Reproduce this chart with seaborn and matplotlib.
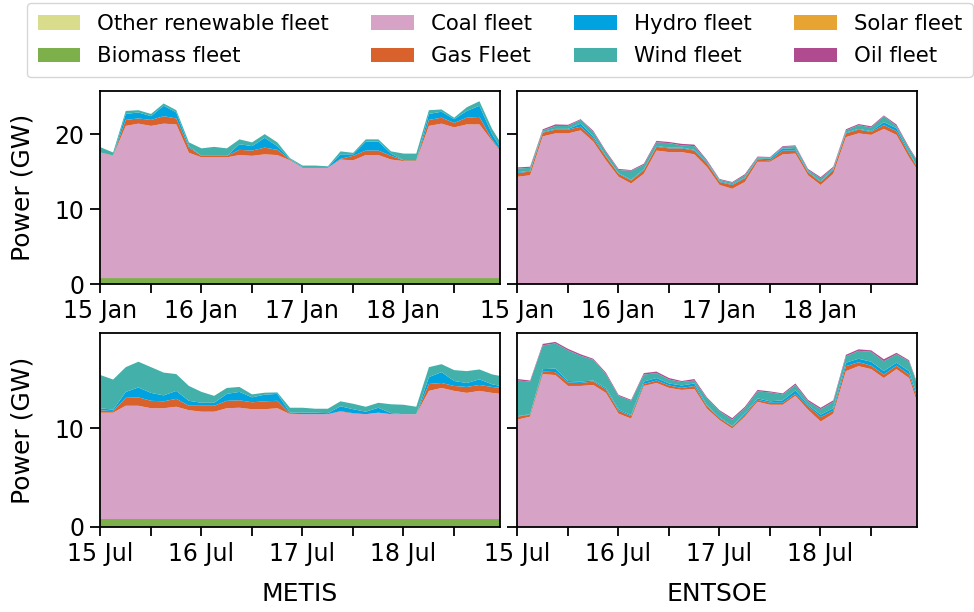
import numpy as np
import pandas as pd
import matplotlib
matplotlib.use("Agg")
import matplotlib.pyplot as plt
import matplotlib.dates as mdates
import seaborn as sns

# ---------------- data (GW), 3-hourly samples, hours since 00:00 of the 15th ----------------
hours = [0, 3, 6, 9, 12, 15, 18, 21, 24, 27, 30, 33, 36, 39, 42, 45, 48, 51, 54, 57, 60,
         63, 66, 69, 72, 75, 78, 81, 84, 87, 90, 93, 95]

series_names = ["Other renewable fleet", "Biomass fleet", "Coal fleet", "Gas Fleet",
                "Hydro fleet", "Wind fleet", "Solar fleet", "Oil fleet"]
series_colors = ["#d9dd8b", "#7db04b", "#d6a2c6", "#d9622c", "#00a2e0", "#43b0aa",
                 "#e8a432", "#b04b90"]

# METIS, January
metis_jan_biomass = [0.85] * 33
metis_jan_coal = [16.75, 16.35, 20.35, 20.65, 20.35, 20.65, 20.55, 16.75, 16.15, 16.15, 16.15,
                  16.45, 16.35, 16.55, 16.45, 15.75, 14.75, 14.75, 14.75, 15.85, 15.75, 16.45,
                  16.45, 15.85, 15.65, 15.65, 20.35, 20.65, 20.15, 20.55, 20.55, 18.35, 16.95]
metis_jan_gas = [0.05, 0.05, 0.8, 0.7, 0.8, 1.0, 0.8, 0.7, 0.2, 0.2, 0.2, 0.7, 0.7, 0.9, 0.7,
                 0.1, 0.0, 0.0, 0.0, 0.1, 0.6, 0.6, 0.6, 0.5, 0.1, 0.1, 0.8, 0.8, 0.6, 0.9, 1.0,
                 0.2, 0.1]
metis_jan_hydro = [0.0, 0.0, 0.8, 0.8, 0.5, 1.4, 0.8, 0.2, 0.0, 0.0, 0.0, 0.75, 0.6, 1.3, 0.5,
                   0.1, 0.1, 0.1, 0.1, 0.6, 0.2, 1.2, 1.2, 0.3, 0.0, 0.0, 0.8, 0.8, 0.5, 0.9,
                   1.5, 0.7, 0.4]
metis_jan_wind = [0.7, 0.4, 0.4, 0.3, 0.3, 0.3, 0.3, 0.5, 1.0, 1.2, 1.0, 0.65, 0.5, 0.5, 0.5,
                  0.1, 0.2, 0.2, 0.1, 0.4, 0.2, 0.3, 0.3, 0.3, 0.9, 0.9, 0.5, 0.3, 0.2, 0.5,
                  0.6, 0.7, 0.7]
metis_jan_oil = [0.0] * 33

# ENTSOE, January
entsoe_jan_biomass = [0.05] * 33
entsoe_jan_coal = [14.35, 14.55, 19.75, 20.15, 20.15, 20.55, 19.05, 16.55, 14.35, 13.45, 14.75,
                   17.85, 17.65, 17.65, 17.35, 15.65, 13.25, 12.75, 13.65, 16.35, 16.35, 17.35,
                   17.45, 14.55, 13.25, 14.75, 19.65, 20.15, 19.95, 20.75, 19.95, 16.95, 15.25]
entsoe_jan_gas = [0.5, 0.5, 0.5, 0.5, 0.5, 0.5, 0.4, 0.5, 0.4, 0.4, 0.5, 0.5, 0.5, 0.5, 0.5,
                  0.5, 0.4, 0.5, 0.5, 0.3, 0.2, 0.5, 0.4, 0.4, 0.4, 0.5, 0.5, 0.5, 0.4, 0.5,
                  0.5, 0.5, 0.3]
entsoe_jan_hydro = [0.1, 0.1, 0.1, 0.1, 0.1, 0.4, 0.3, 0.1, 0.1, 0.1, 0.1, 0.1, 0.1, 0.1, 0.1,
                    0.1, 0.1, 0.1, 0.1, 0.1, 0.2, 0.3, 0.2, 0.1, 0.1, 0.1, 0.1, 0.1, 0.1, 0.4,
                    0.4, 0.2, 0.1]
entsoe_jan_wind = [0.5, 0.4, 0.2, 0.4, 0.4, 0.5, 0.6, 0.5, 0.4, 1.2, 0.6, 0.5, 0.6, 0.3, 0.5,
                   0.2, 0.2, 0.2, 0.3, 0.2, 0.15, 0.2, 0.4, 0.2, 0.4, 0.2, 0.3, 0.5, 0.5, 0.8,
                   0.3, 0.5, 0.7]
entsoe_jan_oil = [0.15, 0.15, 0.15, 0.2, 0.15, 0.1, 0.15, 0.15, 0.15, 0.1, 0.15, 0.2, 0.15, 0.2,
                  0.2, 0.15, 0.1, 0.1, 0.15, 0.1, 0.1, 0.1, 0.1, 0.15, 0.15, 0.15, 0.15, 0.15,
                  0.15, 0.1, 0.2, 0.15, 0.15]

# METIS, July
metis_jul_biomass = [0.85] * 33
metis_jul_coal = [10.75, 10.75, 11.45, 11.45, 11.2, 11.2, 11.35, 11.0, 10.85, 10.85, 11.2, 11.25,
                  11.1, 11.1, 11.2, 10.6, 10.6, 10.6, 10.6, 10.85, 10.65, 10.6, 10.75, 10.6,
                  10.6, 10.6, 12.95, 13.25, 12.95, 12.75, 12.95, 12.75, 12.65]
metis_jul_gas = [0.25, 0.15, 0.8, 0.85, 0.75, 0.7, 0.8, 0.45, 0.6, 0.6, 0.75, 0.75, 0.7, 0.8,
                 0.75, 0.05, 0.0, 0.0, 0.0, 0.05, 0.05, 0.0, 0.0, 0.0, 0.0, 0.0, 0.7, 0.5, 0.5,
                 0.6, 0.6, 0.6, 0.6]
metis_jul_hydro = [0.2, 0.15, 0.6, 1.0, 0.8, 0.6, 0.8, 0.5, 0.3, 0.3, 0.7, 0.85, 0.5, 0.67, 0.7,
                   0.1, 0.15, 0.15, 0.1, 0.5, 0.4, 0.25, 0.5, 0.1, 0.0, 0.0, 0.7, 1.1, 0.5, 0.4,
                   0.57, 0.27, 0.2]
metis_jul_wind = [3.35, 3.05, 2.5, 2.6, 2.6, 2.3, 1.7, 1.5, 1.1, 0.7, 0.6, 0.5, 0.3, 0.2, 0.15,
                  0.5, 0.5, 0.4, 0.45, 0.5, 0.55, 0.5, 0.5, 0.9, 0.95, 0.75, 1.0, 0.8, 1.1, 1.2,
                  1.0, 1.0, 1.0]
metis_jul_oil = [0.0] * 33

# ENTSOE, July
entsoe_jul_biomass = [0.05] * 33
entsoe_jul_coal = [10.85, 11.15, 15.45, 15.35, 14.25, 14.25, 14.35, 13.55, 11.45, 10.95, 14.25,
                   14.55, 14.05, 13.85, 13.95, 11.95, 10.8, 9.95, 11.15, 12.65, 12.35, 12.35,
                   13.25, 11.85, 10.65, 11.45, 15.75, 16.25, 15.95, 15.05, 15.95, 15.05, 12.5]
entsoe_jul_gas = [0.3, 0.2, 0.25, 0.3, 0.35, 0.3, 0.35, 0.35, 0.3, 0.25, 0.2, 0.25, 0.25, 0.2,
                  0.3, 0.25, 0.2, 0.2, 0.2, 0.2, 0.2, 0.2, 0.2, 0.35, 0.45, 0.3, 0.5, 0.4, 0.35,
                  0.35, 0.35, 0.35, 0.4]
entsoe_jul_hydro = [0.05, 0.05, 0.25, 0.35, 0.15, 0.15, 0.1, 0.15, 0.15, 0.1, 0.25, 0.25, 0.2,
                    0.25, 0.25, 0.1, 0.1, 0.05, 0.15, 0.15, 0.15, 0.25, 0.35, 0.15, 0.25, 0.25,
                    0.35, 0.35, 0.4, 0.35, 0.3, 0.35, 0.3]
entsoe_jul_wind = [3.6, 3.3, 2.4, 2.55, 3.1, 2.6, 2.1, 1.4, 1.35, 1.45, 0.7, 0.5, 0.4, 0.35, 0.3,
                   0.7, 0.6, 0.65, 0.5, 0.7, 0.9, 0.6, 0.55, 0.35, 0.55, 0.65, 0.65, 0.8, 1.0,
                   1.0, 0.85, 1.0, 1.1]
entsoe_jul_oil = [0.15, 0.1, 0.15, 0.15, 0.15, 0.15, 0.1, 0.15, 0.1, 0.1, 0.15, 0.15, 0.15, 0.1,
                  0.15, 0.1, 0.1, 0.15, 0.15, 0.15, 0.1, 0.1, 0.15, 0.15, 0.15, 0.15, 0.15, 0.15,
                  0.15, 0.2, 0.15, 0.1, 0.15]

zeros = [0.0] * 33

panels = [
    ("2018-01-15", [zeros, metis_jan_biomass, metis_jan_coal, metis_jan_gas, metis_jan_hydro,
                    metis_jan_wind, zeros, metis_jan_oil]),
    ("2018-01-15", [zeros, entsoe_jan_biomass, entsoe_jan_coal, entsoe_jan_gas, entsoe_jan_hydro,
                    entsoe_jan_wind, zeros, entsoe_jan_oil]),
    ("2018-07-15", [zeros, metis_jul_biomass, metis_jul_coal, metis_jul_gas, metis_jul_hydro,
                    metis_jul_wind, zeros, metis_jul_oil]),
    ("2018-07-15", [zeros, entsoe_jul_biomass, entsoe_jul_coal, entsoe_jul_gas, entsoe_jul_hydro,
                    entsoe_jul_wind, zeros, entsoe_jul_oil]),
]

# ---------------- figure ----------------
sns.set_style("ticks", {"axes.edgecolor": "black", "xtick.color": "black",
                        "ytick.color": "black", "xtick.direction": "out",
                        "ytick.direction": "out", "text.color": "black",
                        "axes.labelcolor": "black"})
plt.rcParams["font.family"] = ["DejaVu Sans"]
plt.rcParams["text.color"] = "black"
plt.rcParams["axes.labelcolor"] = "black"
TICK_FS = 17
LABEL_FS = 18
LEG_FS = 15.3

W, H = 974, 612
fig = plt.figure(figsize=(W / 100, H / 100), dpi=100)

def frac(l, t, r, b):
    return [l / W, 1 - b / H, (r - l) / W, (b - t) / H]

rects = [frac(100, 91, 500, 284), frac(517, 91, 917, 284),
         frac(100, 333, 500, 527), frac(517, 333, 917, 527)]
ylims = [25.8, 25.8, 19.6, 19.6]

handles = None
for i, ((start, stack), rect) in enumerate(zip(panels, rects)):
    ax = fig.add_axes(rect)
    t0 = pd.Timestamp(start)
    times = t0 + pd.to_timedelta(hours, unit="h")
    df = pd.DataFrame(dict(zip(series_names, stack)), index=times)
    polys = ax.stackplot(df.index, *[df[c].values for c in series_names],
                         labels=series_names, colors=series_colors, linewidth=0)
    if handles is None:
        handles = polys
    ax.set_xlim(times[0], times[-1])
    ax.set_ylim(0, ylims[i])
    ax.xaxis.set_major_locator(mdates.DayLocator())
    ax.xaxis.set_major_formatter(mdates.DateFormatter("%d %b"))
    ax.xaxis.set_minor_locator(mdates.HourLocator(byhour=[12]))
    ax.set_yticks([0, 10, 20] if i < 2 else [0, 10])
    ax.tick_params(axis="x", which="both", length=6.5, width=1.3, labelsize=TICK_FS, pad=4,
                   colors="black")
    ax.tick_params(axis="y", which="both", length=7.5, width=1.3, labelsize=TICK_FS, pad=4,
                   colors="black")
    for s in ax.spines.values():
        s.set_linewidth(1.3)
        s.set_color("black")
    if i % 2 == 0:
        ax.set_ylabel("Power (GW)", fontsize=LABEL_FS, labelpad=14, color="black")
    else:
        ax.set_yticklabels([])
    if i == 2:
        ax.set_xlabel("METIS", fontsize=LABEL_FS, labelpad=12, color="black")
    if i == 3:
        ax.set_xlabel("ENTSOE", fontsize=LABEL_FS, labelpad=12, color="black")

leg = fig.legend(handles, series_names, ncol=4, loc="upper left",
                 bbox_to_anchor=(27 / W, 1 - 3 / H), fontsize=LEG_FS, frameon=True,
                 edgecolor="0.8", fancybox=True, borderaxespad=0, labelspacing=0.6,
                 borderpad=0.5)
for t in leg.get_texts():
    t.set_color("black")

fig.savefig("out.png", dpi=100)
